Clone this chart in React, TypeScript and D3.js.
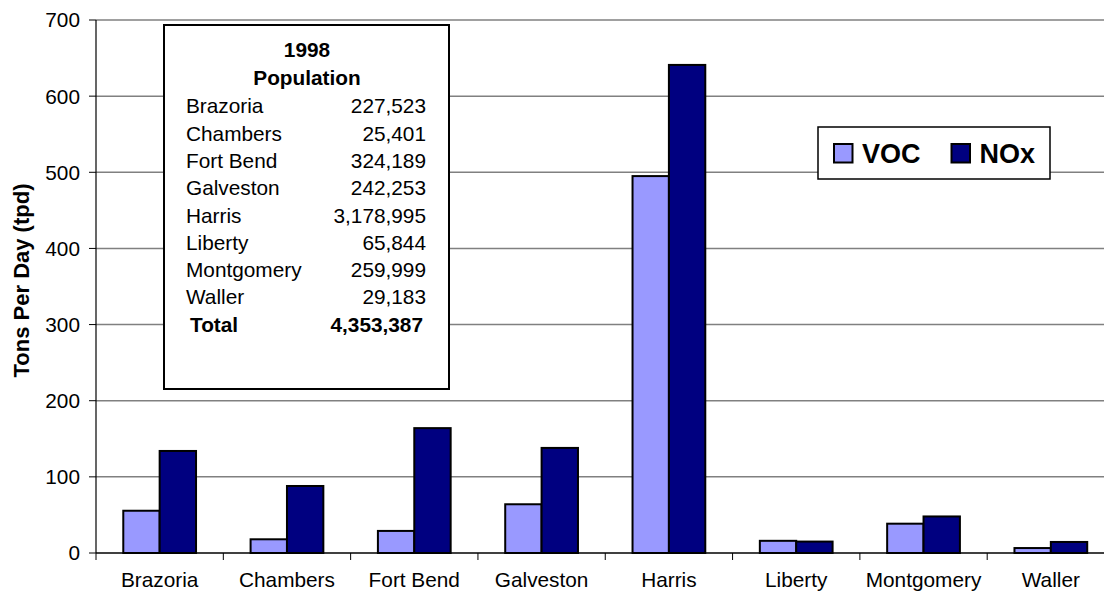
import React from "react";
import * as d3 from "d3";

const categories = ["Brazoria", "Chambers", "Fort Bend", "Galveston", "Harris", "Liberty", "Montgomery", "Waller"];
const seriesNames = ["VOC", "NOx"];
const vocValues = [55.5, 18, 29, 64, 495, 16, 38.5, 6.5];
const noxValues = [134, 88, 164, 138, 641, 15, 48, 14.5];
const yTicks = [0, 100, 200, 300, 400, 500, 600, 700];
const popCounties = ["Brazoria", "Chambers", "Fort Bend", "Galveston", "Harris", "Liberty", "Montgomery", "Waller"];
const popValues = ["227,523", "25,401", "324,189", "242,253", "3,178,995", "65,844", "259,999", "29,183"];
const popTotal = "4,353,387";

const colors = ["#9999FF", "#000080"];
const FONT = "'Liberation Sans', Arial, Helvetica, sans-serif";

export default function App() {
  const W = 1104, H = 592;
  const left = 96, right = 1114.5, top = 20, bottom = 553;
  const x = d3.scaleBand<string>().domain(categories).range([left, right]).padding(0);
  const step = x.step();
  const barW = step / 3.5;
  const inner = d3.scaleBand<string>().domain(seriesNames).range([(step - 2 * barW) / 2, (step + 2 * barW) / 2]).padding(0);
  const y = d3.scaleLinear().domain([0, 700]).range([bottom, top]);
  const series = [vocValues, noxValues];

  const rowY0 = 113.3, rowStep = 27.3;
  const fs = 20.8;

  return (
    <svg width={W} height={H} style={{ position: "absolute", left: 0, top: 0, background: "#fff" }} fontFamily={FONT}>
      <rect x={0} y={0} width={W} height={H} fill="#fff" />
      {/* gridlines */}
      {yTicks.filter(t => t > 0).map(t => (
        <line key={t} x1={left} x2={W} y1={y(t)} y2={y(t)} stroke="#808080" strokeWidth={1.5} />
      ))}
      {/* y axis */}
      <line x1={left} x2={left} y1={top} y2={bottom} stroke="#000" strokeWidth={1.2} />
      {yTicks.map(t => (
        <g key={t}>
          <line x1={89} x2={left} y1={y(t)} y2={y(t)} stroke="#000" strokeWidth={1} />
          <text x={80} y={y(t)} dy="0.36em" textAnchor="end" fontSize={fs} fill="#000">{t}</text>
        </g>
      ))}
      {/* bars */}
      {categories.map((c, i) => (
        <g key={c}>
          {seriesNames.map((s, j) => {
            const v = series[j][i];
            return (
              <rect key={s} x={(x(c) as number) + (inner(s) as number)} y={y(v)} width={inner.bandwidth()} height={y(0) - y(v)}
                fill={colors[j]} stroke="#000" strokeWidth={2} />
            );
          })}
        </g>
      ))}
      {/* x axis */}
      <line x1={left} x2={W} y1={bottom} y2={bottom} stroke="#000" strokeWidth={1.5} />
      {categories.map((c, i) => (
        <g key={c}>
          <line x1={x(c)} x2={x(c)} y1={bottom} y2={bottom + 7} stroke="#000" strokeWidth={1} />
          <text x={(x(c) as number) + step / 2} y={587} textAnchor="middle" fontSize={fs} fill="#000">{c}</text>
        </g>
      ))}
      {/* y label */}
      <text transform={`translate(28.5,${(181 + 380) / 2}) rotate(-90)`} textAnchor="middle" fontSize={22} fontWeight="bold" fill="#000">Tons Per Day (tpd)</text>
      {/* population box */}
      <rect x={164} y={25} width={285} height={364} fill="#fff" stroke="#000" strokeWidth={2} />
      <text x={307} y={57} textAnchor="middle" fontSize={fs} fontWeight="bold">1998</text>
      <text x={307} y={85} textAnchor="middle" fontSize={fs} fontWeight="bold">Population</text>
      {popCounties.map((c, i) => (
        <g key={c}>
          <text x={186} y={rowY0 + i * rowStep} fontSize={fs}>{c}</text>
          <text x={426} y={rowY0 + i * rowStep} textAnchor="end" fontSize={fs}>{popValues[i]}</text>
        </g>
      ))}
      <text x={190} y={rowY0 + 8 * rowStep} fontSize={fs} fontWeight="bold">Total</text>
      <text x={423} y={rowY0 + 8 * rowStep} textAnchor="end" fontSize={fs} fontWeight="bold">{popTotal}</text>
      {/* legend */}
      <rect x={818} y={127} width={232} height={52} fill="#fff" stroke="#000" strokeWidth={1.5} />
      {seriesNames.map((s, j) => {
        const sx = j === 0 ? 834 : 951.5;
        return (
          <g key={s}>
            <rect x={sx} y={144} width={18.5} height={18.5} fill={colors[j]} stroke="#000" strokeWidth={2} />
            <text x={sx + 28} y={162.5} fontSize={27} fontWeight="bold" fill="#000">{s}</text>
          </g>
        );
      })}
    </svg>
  );
}
